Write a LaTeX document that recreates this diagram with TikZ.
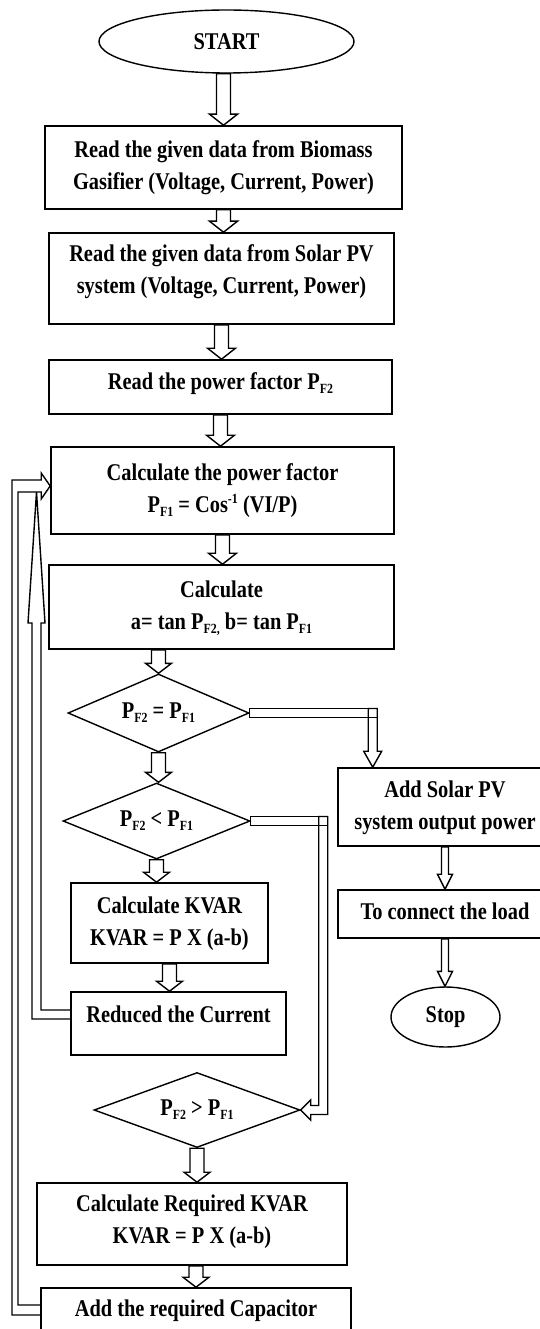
\documentclass[tikz,border=0pt]{standalone}
\usepackage{fontspec}
\setmainfont{Liberation Serif}[FakeStretch=0.85]
\usetikzlibrary{shapes.geometric,calc}
\newcommand{\liftby}[2]{\raisebox{#1}[\height][\depth]{#2}}
\newcommand{\smallsub}[1]{\raisebox{-4pt}{\fontsize{14}{14}\selectfont #1}}
\newcommand{\smallsup}[1]{\raisebox{9pt}{\fontsize{14}{14}\selectfont #1}}
\newcommand{\pfs}[1]{P\smallsub{F#1}}
\newcommand{\twoline}[2]{\begin{tabular}{@{}c@{}}#1\\#2\end{tabular}}
\tikzset{
 lbl/.style={font=\bfseries\fontsize{24}{32}\selectfont, text=black},
 box/.style={lbl, draw, line width=1.6pt, rectangle, inner sep=0pt},
 dia/.style={lbl, draw, line width=1.4pt, diamond, aspect=2.4, inner sep=0pt},
 oval/.style={lbl, draw, line width=1.4pt, ellipse, inner sep=0pt},
 blk/.style={draw, line width=1.4pt, line join=miter},
}
\newcommand{\dnarrow}[5]{\draw[blk] let \p1=#4, \p2=#5 in (\x1-#1pt,\y1) -- (\x1-#1pt,\y2+#3pt) -- (\x1-#2pt,\y2+#3pt) -- (\x1,\y2) -- (\x1+#2pt,\y2+#3pt) -- (\x1+#1pt,\y2+#3pt) -- (\x1+#1pt,\y1) -- cycle;}
\begin{document}
\begin{tikzpicture}[x=1pt,y=-1pt]
\useasboundingbox (0,0) rectangle (540,1329);
\clip (0,0) rectangle (540,1329);
% nodes
\node[oval, minimum width=255pt, minimum height=63pt] (start) at (226.5,41.5) {START};
\node[box, minimum width=357pt, minimum height=83pt] (b1) at (223.5,167.5) {\twoline{Read the given data from Biomass}{Gasifier (Voltage, Current, Power)}};
\node[box, minimum width=345pt, minimum height=91pt] (b2) at (221.5,278.5) {\liftby{7.5pt}{\twoline{Read the given data from Solar PV}{system (Voltage, Current, Power)}}};
\node[box, minimum width=343pt, minimum height=54pt] (b3) at (220.5,387) {\liftby{3pt}{Read the power factor \pfs{2}}};
\node[box, minimum width=343pt, minimum height=87pt] (b4) at (222.5,490.5) {\twoline{Calculate the power factor}{\pfs{1} = Cos\smallsup{-1} (VI/P)}};
\node[box, minimum width=345pt, minimum height=84pt] (b5) at (221.5,607) {\twoline{Calculate}{a= tan P\smallsub{F2,} b= tan \pfs{1}}};
\node[dia, minimum width=181pt, minimum height=78pt] (d1) at (158.5,713) {\pfs{2} = \pfs{1}};
\node[dia, minimum width=187pt, minimum height=76pt] (d2) at (156.5,821) {\pfs{2} < \pfs{1}};
\node[box, minimum width=197pt, minimum height=80pt] (kvar) at (169.5,923) {\twoline{Calculate KVAR}{KVAR = P X (a-b)}};
\node[box, minimum width=215pt, minimum height=63pt] (red) at (178.5,1023.5) {\liftby{9.5pt}{Reduced the Current}};
\node[dia, minimum width=206pt, minimum height=75pt] (d3) at (197,1110) {\pfs{2} > \pfs{1}};
\node[box, minimum width=310pt, minimum height=82pt] (creq) at (192,1224) {\liftby{3pt}{\twoline{Calculate Required KVAR}{KVAR = P X (a-b)}}};
\node[box, minimum width=310pt, minimum height=52pt] (addcap) at (196,1314) {\liftby{3pt}{Add the required Capacitor}};
\node[box, minimum width=214pt, minimum height=78pt] (solar) at (445,807) {\twoline{Add Solar PV}{system output power}};
\node[box, minimum width=214pt, minimum height=48pt] (conn) at (445,914) {\liftby{3pt}{To connect the load}};
\node[oval, minimum width=109pt, minimum height=60pt] (stop) at (445.5,1017) {Stop};
% main column arrows
\dnarrow{7}{14}{11}{(b1.north |- start.south)}{(b1.north)}
\dnarrow{7}{14}{11}{(b1.south)}{(b1.south |- b2.north)}
\dnarrow{7}{14}{11}{(b2.south)}{(b2.south |- b3.north)}
\dnarrow{7}{14}{11}{(b3.south)}{(b3.south |- b4.north)}
\dnarrow{7}{14}{11}{(b4.south)}{(b4.south |- b5.north)}
\dnarrow{7}{13}{10}{(d1.north |- b5.south)}{(d1.north)}
\dnarrow{7}{13}{10}{(d1.south)}{(d1.south |- d2.north)}
\dnarrow{7}{13}{10}{(d2.south)}{(d2.south |- kvar.north)}
\dnarrow{7}{13}{10}{(kvar.south)}{(kvar.south |- red.north)}
\dnarrow{7}{13}{10}{(d3.south)}{(d3.south |- creq.north)}
\dnarrow{7}{13}{10}{(addcap.north |- creq.south)}{(addcap.north)}
\dnarrow{3.5}{7.5}{15}{(solar.south)}{(conn.north)}
\dnarrow{3.5}{7.5}{15}{(conn.south)}{(conn.south |- stop.north)}
% branch 1: PF2 = PF1 -> Add Solar PV
\coordinate (s1) at ($(solar.north west)+(35.5,0)$);
\draw[blk] let \p1=(d1.east), \p2=(s1) in (\x1,\y1+4.5pt) rectangle (\x2+4.5pt,\y1-4.5pt);
\draw[blk] let \p1=(d1.east), \p2=(s1) in (\x2-4.5pt,\y1+4.5pt) -- (\x2-4.5pt,\y2+16pt) -- (\x2-9pt,\y2+16pt) -- (\x2,\y2) -- (\x2+9pt,\y2+16pt) -- (\x2+4.5pt,\y2+16pt) -- (\x2+4.5pt,\y1+4.5pt) -- cycle;
% branch 2: PF2 < PF1 -> PF2 > PF1
\coordinate (t2) at ($(d2.east)+(72.5,0)$);
\draw[blk] let \p1=(d2.east), \p2=(t2) in (\x1,\y1+4.5pt) rectangle (\x2+4.5pt,\y1-4.5pt);
\draw[blk] let \p1=(d2.east), \p2=(t2), \p3=(d3.east) in (\x2-4.5pt,\y1+4.5pt) -- (\x2+4.5pt,\y1+4.5pt) -- (\x2+4.5pt,\y3-4.5pt) -- (\x3+10pt,\y3-4.5pt) -- (\x3+10pt,\y3-10pt) -- (\x3,\y3) -- (\x3+10pt,\y3+10pt) -- (\x3+10pt,\y3+4.5pt) -- (\x2-4.5pt,\y3+4.5pt) -- cycle;
% outer loop: Add the required Capacitor -> Calculate the power factor
\coordinate (lx) at (15,0);
\coordinate (lo1) at ($(addcap.west)+(0,-4)$);
\coordinate (ci) at ($(b4.west)+(0,-4.5)$);
\draw[blk] let \p1=(lo1), \p2=(ci), \p3=(lx) in (\x1,\y1+5pt) -- (\x3+3pt,\y1+5pt) -- (\x3+3pt,\y2-6pt) -- (\x2-9pt,\y2-6pt) -- (\x2-9pt,\y2-13pt) -- (\x2,\y2) -- (\x2-9pt,\y2+13pt) -- (\x2-9pt,\y2+6pt) -- (\x3-3pt,\y2+6pt) -- (\x3-3pt,\y1-5pt) -- (\x1,\y1-5pt);
% inner loop: Reduced the Current -> up
\coordinate (lx2) at (36.5,0);
\coordinate (li1) at ($(red.west)+(0,-9)$);
\draw[blk] let \p1=(li1), \p2=(lx2), \p3=(ci) in (\x1,\y1-4.5pt) -- (\x2-4.5pt,\y1-4.5pt) -- (\x2-4.5pt,\y3-137pt) -- (\x2-8.5pt,\y3-137pt) -- (\x2,\y3-6pt) -- (\x2+8.5pt,\y3-137pt) -- (\x2+4.5pt,\y3-137pt) -- (\x2+4.5pt,\y1+4.5pt) -- (\x1,\y1+4.5pt);
\end{tikzpicture}
\end{document}
